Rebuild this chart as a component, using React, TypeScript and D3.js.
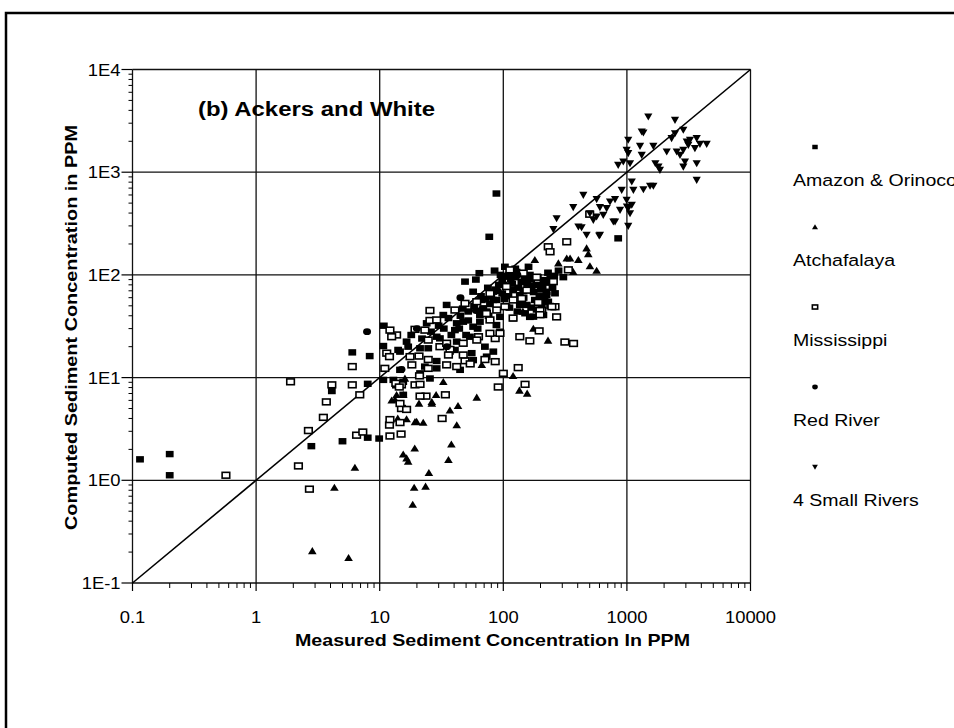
import React from 'react';
import * as d3 from 'd3';

type P = [number, number];

// Amazon & Orinoco (filled squares)
const amazon: P[] = [
  [0.115,1.6],[0.2,1.8],[0.2,1.12],[2.8,2.15],[5.0,2.4],[4.1,7.4],[6.0,17.6],[8.0,2.6],[9.9,2.55],[8.0,8.7],
  [8.3,16.2],[10.8,32],[10.7,20.3],[10.7,9.5],[12.9,9.5],[15.5,9.1],[15.5,6.8],[14.6,17.9],[16.5,22.4],[21.2,11],
  [23.2,12.8],[25.5,9.8],[24.7,19.3],[30.7,24.1],[28.9,14.5],[37,17.9],[42,22.4],[44.7,11.9],[55.5,17.3],[40.6,29],
  [47.4,35],[57,31.3],[64.7,35],[73.4,44],[83,57],[68.9,47.3],[88,32.5],[94,28],[120,37.8],[150,42.3],
  [175,39.2],[239,49.8],[224,63.7],[262,66.2],[211,40.7],[88,620],[77,235],[64,104],[49,86],[850,227],
  [103,120],[128,107],[164,100],[211,89],[306,95],[120,71],[180,57],[136,51],[88,57],[67,57],
  [47,47],[94,39],[164,39],[57,68.6],[83,68.6],[136,63.7],[224,68.6],[34.8,51],[32.7,40.7],[24,33.8],
  [42,33.8],[64.7,40.7],[106,49],[155,51],[231,54.8],[14.1,18.6],[21.2,19.3],[28.9,25],[40.6,18.6],[53.7,25],
  [71,20],[57,14.8],[28.9,12.3],[14.6,11.9],[12.1,16],[73.4,16],[83,17.9],[100,80],[115,90],[140,85],
  [170,78],[200,72],[250,75],[110,62],[145,70],[190,95],[230,105],[280,110],[95,100],[125,115],
  [160,120],[60,90],[75,75],[85,110],[18,26],[33,30],[50,26],[62,30],[78,52],[98,66],
  [45,40],[52,44],[58,50],[66,62],[72,58],[80,62],[86,72],[92,80],[98,90],[104,96],
  [112,100],[118,82],[126,95],[132,75],[148,92],[156,82],[168,90],[176,68],[186,80],[196,62],
  [208,78],[216,58],[226,84],[240,92],[258,98],[36,38],[30,32],[26,28],[22,24],[17,20],
  [38,26],[44,30],[52,36],[68,46],[76,40],[102,58],[112,48],[130,44],[146,60],[168,48],
  [186,46],[205,52]
];

// Atchafalaya (filled triangles)
const atchafalaya: P[] = [
  [2.85,0.205],[5.6,0.176],[4.3,0.85],[6.3,1.33],[18.5,0.58],[19,0.85],[23.5,0.87],[25,1.18],[36,1.58],[38,2.24],
  [15.5,1.79],[17,1.52],[16.5,1.64],[19.2,2.05],[42,3.45],[19.3,3.7],[22.5,3.65],[14,4.0],[16.5,3.95],[37,4.8],
  [43,5.3],[61,6.4],[28.6,6.8],[26.4,5.8],[20.8,5.6],[12.5,6.0],[13.3,6.1],[135,7.5],[156,7.0],[120,10.4],
  [32.7,9.1],[16,9.8],[67,13.3],[175,30],[230,23],[144,44],[180,140],[279,130],[326,145],[472,182],
  [487,160],[405,140],[347,145],[569,110],[502,122],[368,107],[13.7,6.8],[15.5,6.8],[26.4,5.6],[19.9,3.72]
];

// Mississippi (open squares)
const mississippi: P[] = [
  [0.57,1.12],[1.9,9.1],[2.2,1.38],[2.7,0.82],[2.65,3.05],[3.5,4.1],[3.7,5.8],[4.1,8.5],[6.0,12.8],[6.0,8.5],
  [6.9,6.8],[6.5,2.75],[7.3,2.95],[12.1,2.7],[14.9,2.82],[12,3.45],[14.6,3.65],[12.1,3.9],[15,5.0],[16.5,4.9],
  [14.6,5.6],[32,4.0],[34,6.8],[23.7,6.6],[21.2,6.6],[13.7,8.5],[15,8.5],[19.3,8.5],[21.2,8.6],[132,12.5],
  [100,11],[91,8.1],[150,8.6],[86,14.3],[71,15],[370,21.5],[315,22.2],[164,22.8],[136,25],[195,28.5],
  [262,49],[205,45],[25.5,45],[25.5,36],[19.3,29.5],[23.2,29],[13.7,26],[12.5,25],[11.4,17.3],[12,16],
  [20.8,16.2],[24.7,15],[21,10.4],[13.5,8.8],[14.4,8.1],[30.7,20],[37,18.8],[36,16.6],[49,14.6],[54,13.6],
  [63,25],[86,24],[94,27],[141,59],[192,54],[198,45],[326,210],[231,188],[239,168],[500,390],
  [12.1,29],[17.6,16],[24.7,23.2],[34.8,21.6],[47.4,21.6],[61,23.2],[78,27],[42,12.8],[34.8,13.3],[24.7,12.3],
  [18.2,13.3],[11,12.3],[47.4,16.6],[113,112],[145,104],[186,95],[254,86],[336,112],[106,77],[155,71],
  [247,49],[120,57],[103,49],[78,66],[73,42],[120,38],[198,41],[270,39],[61,54.8],[49,52.8],
  [88.5,45.5],[40.6,45.5],[28.9,36.4],[78,36.4]
];

// Red River (filled dots)
const redRiver: P[] = [
  [7.9,28],[20,30],[35,20],[60,45],[90,70],[15,12],[130,100],[45,60]
];

// 4 Small Rivers (inverted triangles)
const smallRivers: P[] = [
  [270,355],[254,278],[1360,2430],[1025,2060],[1277,1800],[1318,1470],[995,1645],[1025,1527],[1637,1800],[2450,2390],
  [2860,2580],[2300,2140],[3050,1980],[3240,2060],[3670,2140],[3900,1880],[4420,1880],[3140,1840],[2100,1585],[2530,1585],
  [2860,1645],[2690,1470],[3550,1710],[2950,1265],[2860,1130],[3670,1220],[1700,1220],[1800,1130],[1850,1050],[3670,840],
  [850,1175],[935,1265],[1060,1220],[1095,810],[1128,671],[1360,681],[1637,735],[908,671],[802,545],[995,536],
  [1095,480],[880,428],[1025,445],[1060,397],[1025,299],[730,516],[605,455],[686,445],[644,383],[535,342],
  [777,330],[605,245],[472,245],[502,397],[569,369],[444,600],[569,545],[368,455],[430,290],[597,241],
  [405,295],[802,330],[1540,735],[1000,462],[1490,3470],[2450,3220],[1318,2480]
];

const decades = [0.1, 1, 10, 100, 1000, 10000];
const xTickLabels = ['0.1', '1', '10', '100', '1000', '10000'];
const yTickLabels = ['1E-1', '1E0', '1E1', '1E2', '1E3', '1E4'];
const legendLabels = ['Amazon & Orinoco', 'Atchafalaya', 'Mississippi', 'Red River', '4 Small Rivers'];
const titleText = '(b) Ackers and White';
const xTitle = 'Measured Sediment Concentration In PPM';
const yTitle = 'Computed Sediment Concentration in PPM';

const FONT = '"Liberation Sans", Arial, Helvetica, sans-serif';

type Kind = 'sq' | 'tri' | 'open' | 'dot' | 'tdown';

function Marker({ kind, cx, cy, s = 1 }: { kind: Kind; cx: number; cy: number; s?: number }) {
  if (kind === 'sq') return <rect x={cx - 3.9 * s} y={cy - 3.2 * s} width={7.8 * s} height={6.4 * s} fill="#000" />;
  if (kind === 'open')
    return <rect x={cx - 3.8 * s} y={cy - 2.9 * s} width={7.6 * s} height={5.8 * s} fill="#fff" stroke="#000" strokeWidth={1.6} />;
  if (kind === 'dot') return <ellipse cx={cx} cy={cy} rx={4 * s} ry={3.4 * s} fill="#000" />;
  if (kind === 'tri')
    return <path d={`M${cx},${cy - 3.9 * s}L${cx + 4.3 * s},${cy + 3.2 * s}L${cx - 4.3 * s},${cy + 3.2 * s}Z`} fill="#000" />;
  return <path d={`M${cx - 4.1 * s},${cy - 3.2 * s}L${cx + 4.1 * s},${cy - 3.2 * s}L${cx},${cy + 3.9 * s}Z`} fill="#000" />;
}

export default function App() {
  const x = d3.scaleLog().domain([0.1, 10000]).range([132.5, 750.5]);
  const y = d3.scaleLog().domain([0.1, 10000]).range([583, 69.5]);
  const x0 = x(0.1), x1 = x(10000), y0 = y(0.1), y1 = y(10000);
  const minors: number[] = [];
  decades.slice(0, -1).forEach((d) => {
    for (let k = 2; k <= 9; k++) minors.push(d * k);
  });

  const series: { data: P[]; kind: Kind }[] = [
    { data: amazon, kind: 'sq' },
    { data: atchafalaya, kind: 'tri' },
    { data: mississippi, kind: 'open' },
    { data: redRiver, kind: 'dot' },
    { data: smallRivers, kind: 'tdown' },
  ];
  const legendKinds: Kind[] = ['sq', 'tri', 'open', 'dot', 'tdown'];
  const line = d3.line<P>().x((d) => x(d[0])).y((d) => y(d[1]));

  return (
    <svg width={954} height={728} style={{ position: 'absolute', left: 0, top: 0, background: '#fff' }} fontFamily={FONT}>
      <rect x={0} y={0} width={954} height={728} fill="#fff" />
      {/* outer frame */}
      <rect x={6} y={13} width={1100} height={1100} fill="none" stroke="#000" strokeWidth={2.5} />

      {/* grid */}
      {decades.map((d) => (
        <line key={'gx' + d} x1={x(d)} x2={x(d)} y1={y0} y2={y1} stroke="#111" strokeWidth={1.3} />
      ))}
      {decades.map((d) => (
        <line key={'gy' + d} x1={x0} x2={x1} y1={y(d)} y2={y(d)} stroke="#111" strokeWidth={1.3} />
      ))}

      {/* ticks */}
      {minors.map((m) => (
        <line key={'ty' + m} x1={x0 - 4} x2={x0} y1={y(m)} y2={y(m)} stroke="#000" strokeWidth={1} />
      ))}
      {minors.map((m) => (
        <line key={'tx' + m} x1={x(m)} x2={x(m)} y1={y0} y2={y0 + 5} stroke="#000" strokeWidth={1} />
      ))}
      {decades.map((d) => (
        <line key={'My' + d} x1={x0 - 11} x2={x0} y1={y(d)} y2={y(d)} stroke="#000" strokeWidth={1.2} />
      ))}
      {decades.map((d) => (
        <line key={'Mx' + d} x1={x(d)} x2={x(d)} y1={y0} y2={y0 + 8} stroke="#000" strokeWidth={1.2} />
      ))}

      {/* 1:1 line */}
      <path d={line([[0.1, 0.1], [10000, 10000]]) || ''} stroke="#000" strokeWidth={1.6} fill="none" />

      {/* points */}
      {series.map((s, si) => (
        <g key={'s' + si}>
          {s.data.map((p, i) => (
            <Marker key={i} kind={s.kind} cx={x(p[0])} cy={y(p[1])} />
          ))}
        </g>
      ))}

      {/* tick labels */}
      {decades.map((d, i) => (
        <text key={'ly' + d} transform={`translate(${x0 - 12},${y(d) + 6}) scale(1.15,1)`} textAnchor="end" fontSize={16} fill="#000">
          {yTickLabels[i]}
        </text>
      ))}
      {decades.map((d, i) => (
        <text key={'lx' + d} transform={`translate(${x(d)},${623}) scale(1.15,1)`} textAnchor="middle" fontSize={16} fill="#000">
          {xTickLabels[i]}
        </text>
      ))}

      {/* title */}
      <text x={198} y={116} fontSize={20} fontWeight="bold" textLength={237} lengthAdjust="spacingAndGlyphs">
        {titleText}
      </text>
      {/* axis titles */}
      <text x={295} y={646} fontSize={17} fontWeight="bold" textLength={395} lengthAdjust="spacingAndGlyphs">
        {xTitle}
      </text>
      <text transform={`translate(77,530) rotate(-90)`} fontSize={17} fontWeight="bold" textLength={405} lengthAdjust="spacingAndGlyphs">
        {yTitle}
      </text>

      {/* legend */}
      {legendLabels.map((lab, i) => (
        <g key={'lg' + i}>
          <Marker kind={legendKinds[i]} cx={815} cy={147 + i * 80} s={0.7} />
          <text transform={`translate(793,${186 + i * 80}) scale(1.15,1)`} fontSize={17} fill="#000">
            {lab}
          </text>
        </g>
      ))}
    </svg>
  );
}
